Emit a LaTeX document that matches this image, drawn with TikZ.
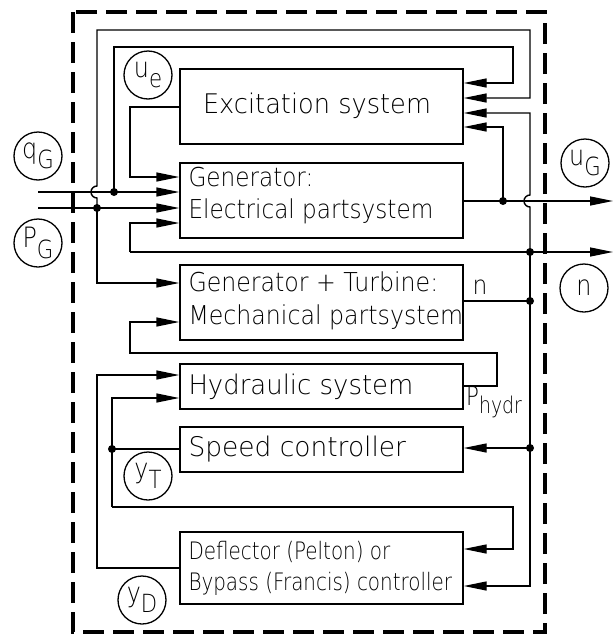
\documentclass[tikz,border=0pt]{standalone}
\usepackage{fontspec}
\usepackage{graphicx}
\setmainfont{DejaVu Sans ExtraLight}
\usetikzlibrary{arrows.meta}
\newcommand{\fsz}[1]{\fontsize{#1}{#1}\selectfont}
\newcommand{\sxs}[2]{\scalebox{#1}[1]{#2}}
\newcommand{\twol}[2]{\begin{tabular}{@{}l@{}}#1\\#2\end{tabular}}
\newcommand{\sublab}[2]{\scalebox{0.85}[1]{#1\raisebox{-0.36em}{\fontsize{25}{25}\selectfont #2}}}
\begin{document}
\begin{tikzpicture}[x=1pt,y=-1pt,
  ln/.style={line width=1.4pt},
  arr/.style={ln,-{Triangle[length=23pt,width=9pt]}},
  box/.style={draw,line width=1.4pt,inner sep=0pt,minimum width=283pt,minimum height=#1},
  txt/.style={inner sep=0pt,anchor=west},
  sig/.style={draw,circle,line width=1.3pt,minimum size=48pt,inner sep=0pt,font=\fsz{28}},
  dot/.style={fill=black}]
\useasboundingbox (0,0) rectangle (615,635);
% frame
\draw[line width=4pt,dash pattern=on 21pt off 9pt] (73,12) rectangle (545,632);
% boxes
\node[box=75pt] (exc) at (321.5,106.5) {};
\node[box=75pt] (gen) at (321.5,200.5) {};
\node[box=75pt] (gt) at (321.5,302.5) {};
\node[box=45pt] (hyd) at (321.5,386.5) {};
\node[box=45pt] (spd) at (321.5,449.5) {};
\node[box=72pt] (dfl) at (321.5,568) {};
% box texts
\node[inner sep=0pt,font=\fsz{27}] (excT) at (317,106) {\sxs{0.95}{Excitation system}};
\node[txt,font=\fontsize{26}{32}\selectfont] (genT) at ([xshift=9pt,yshift=4pt]gen.west) {\sxs{0.89}{\twol{Generator:}{Electrical partsystem}}};
\node[txt,font=\fontsize{26}{33}\selectfont] (gtT) at ([xshift=9pt,yshift=1pt]gt.west) {\sxs{0.91}{\twol{Generator + Turbine:}{Mechanical partsystem}}};
\node[txt,font=\fsz{27}] (hydT) at ([xshift=9pt]hyd.west) {\sxs{0.96}{Hydraulic system}};
\node[txt,font=\fsz{27}] (spdT) at ([xshift=9pt]spd.west) {\sxs{0.98}{Speed controller}};
\node[txt,font=\fontsize{24}{31}\selectfont] (dflT) at ([xshift=9pt,yshift=-1pt]dfl.west) {\sxs{0.83}{\twol{Deflector (Pelton) or}{Bypass (Francis) controller}}};
% signal labels
\node[sig] (ue) at (148,75) {\sublab{u}{e}};
\node[sig] (qg) at (38,156) {\sublab{q}{G}};
\node[sig] (pg) at (38,243) {\sublab{P}{G}};
\node[sig] (ug) at (585,163) {\sublab{u}{G}};
\node[sig] (nn) at (584,288) {\sxs{0.85}{n}};
\node[sig] (yt) at (148,476) {\sublab{y}{T}};
\node[sig] (yd) at (142,600) {\sublab{y}{D}};
\node[font=\fsz{26},inner sep=0pt] (nlab) at (480,287) {\sxs{0.9}{n}};
\node[txt,font=\fsz{26}] (phl) at (466,402) {\sxs{0.82}{P\raisebox{-0.3em}{\fontsize{23}{23}\selectfont hydr}}};
% coordinates
\coordinate (qgIn) at (38,192);
\coordinate (pgIn) at (38,208);
\coordinate (jPG) at (97,208);
\coordinate (jQG) at (114,192);
\coordinate (a1) at (530,98);
\coordinate (a2) at (513,83);
\coordinate (a3) at (530,113);
\coordinate (a4) at (503,127);
\coordinate (e1) at (130,107);
\coordinate (g1) at (130,177);
\coordinate (g4) at (130,223);
\coordinate (nL) at (130,252);
\coordinate (nOut) at (613,252);
\coordinate (jn1) at (530,252);
\coordinate (jug) at (503,201);
\coordinate (ugOut) at (613,201);
\coordinate (jn2) at (530,301);
\coordinate (jn3) at (530,448);
\coordinate (d2) at (530,586);
\coordinate (gt1) at (97,283);
\coordinate (h1) at (497,386);
\coordinate (h2) at (497,353);
\coordinate (h3) at (130,353);
\coordinate (m1) at (130,322);
\coordinate (yD1) at (97,568);
\coordinate (yD2) at (97,375);
\coordinate (yT1) at (112,449);
\coordinate (yT2) at (112,398);
\coordinate (yT3) at (112,507);
\coordinate (yT4) at (513,507);
\coordinate (yT5) at (513,549);
% connectors
\draw[arr] (qgIn) -- (qgIn -| gen.west);
\draw[arr] (pgIn) -- (pgIn -| gen.west);
\draw[arr] (jPG) -- (97,198) arc[start angle=90,end angle=270,radius=6] -- (97,30) -- (530,30) -- (a1) -- (a1 -| exc.east);
\draw[arr] (jQG) -- (114,47) -- (513,47) -- (a2) -- (a2 -| exc.east);
\draw[arr] (e1 -| exc.west) -- (e1) -- (g1) -- (g1 -| gen.west);
\draw[arr] (jPG) -- (gt1) -- (gt1 -| gt.west);
\draw[arr] (nL) -- (nOut);
\draw[arr] (nL) -- (g4) -- (g4 -| gen.west);
\draw[arr] (jug -| gen.east) -- (ugOut);
\draw[arr] (jug) -- (a4) -- (a4 -| exc.east);
\draw[arr] (jn1) -- (530,207) arc[start angle=90,end angle=270,radius=6] -- (a3) -- (a3 -| exc.east);
\draw[arr] (jn1) -- (d2) -- (d2 -| dfl.east);
\draw[ln] (jn2 -| gt.east) -- (jn2);
\draw[arr] (jn3) -- (jn3 -| spd.east);
\draw[arr] (h1 -| hyd.east) -- (h1) -- (h2) -- (h3) -- (m1) -- (m1 -| gt.west);
\draw[arr] (yD1 -| dfl.west) -- (yD1) -- (yD2) -- (yD2 -| hyd.west);
\draw[ln] (yT1 -| spd.west) -- (yT1);
\draw[arr] (yT3) -- (yT2) -- (yT2 -| hyd.west);
\draw[arr] (yT3) -- (yT4) -- (yT5) -- (yT5 -| dfl.east);
% junction dots
\foreach \p in {jPG,jQG,jug,jn1,jn2,jn3,yT1} \fill[dot] (\p) circle[radius=4];
\end{tikzpicture}
\end{document}
